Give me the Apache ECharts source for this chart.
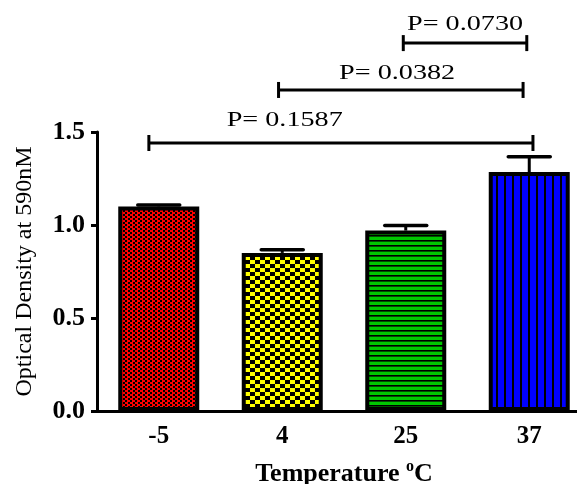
<!DOCTYPE html>
<html>
<head>
<meta charset="utf-8">
<script src="https://cdn.jsdelivr.net/npm/echarts@6/dist/echarts.min.js"></script>
<style>
  html, body { margin: 0; padding: 0; background: #fff; }
  #bar-chart { width: 577px; height: 484px; }
</style>
</head>
<body>
<div id="bar-chart"></div>
<script>
// data
const categories = ['-5', '4', '25', '37']
const odValues = [1.10, 0.85, 0.97, 1.285]
const odErrors = [0.008, 0.017, 0.027, 0.082]
const yTicks = [0, 0.5, 1.0, 1.5]

// significance brackets: from / to category (with small offsets), level, p-value text
const bracketFrom = [-0.08, 0.97, 1.98]
const bracketTo = [3.03, 2.95, 2.98]
const bracketLevel = [1.441, 1.726, 1.978]
const bracketLabelX = [1.02, 1.93, 2.48]
const bracketLabelY = [1.565, 1.815, 2.078]
const bracketText = ['P= 0.1587', 'P= 0.0382', 'P= 0.0730']

const FONT = 'Liberation Serif'

// fill patterns for the bars
function makePattern(w, h, bg, draw) {
  const c = document.createElement('canvas')
  c.width = w
  c.height = h
  const ctx = c.getContext('2d')
  ctx.fillStyle = bg
  ctx.fillRect(0, 0, w, h)
  ctx.fillStyle = '#000'
  draw(ctx)
  return {image: c, repeat: 'repeat'}
}

const patterns = [
  makePattern(10, 4, '#ff0000', ctx => {
    ctx.fillRect(0, 0, 2, 2); ctx.fillRect(5, 0, 2, 2)
    ctx.fillRect(3, 2, 2, 2); ctx.fillRect(8, 2, 2, 2)
  }),
  makePattern(10, 8, '#ffff00', ctx => { ctx.fillRect(0, 0, 5, 4); ctx.fillRect(5, 4, 5, 4) }),
  makePattern(4, 5, '#00c800', ctx => { ctx.fillRect(0, 0, 4, 1.6) }),
  makePattern(8, 4, '#0000ff', ctx => { ctx.fillRect(0, 0, 2, 4) })
]

let chart = echarts.init(document.getElementById('bar-chart'))

const option = {
  animation: false,
  grid: {left: 97, right: -14, top: 132, bottom: 73, outerBoundsMode: 'none', containLabel: false},
  xAxis: {
    type: 'category',
    data: categories,
    name: 'Temperature {sup|o}C',
    nameLocation: 'middle',
    nameGap: 48,
    nameTextStyle: {
      fontFamily: FONT, fontSize: 26, fontWeight: 'bold', color: '#000',
      rich: {
        sup: {fontFamily: FONT, fontSize: 16, fontWeight: 'bold', color: '#000', verticalAlign: 'top', lineHeight: 30}
      }
    },
    axisLine: {lineStyle: {color: '#000', width: 3}},
    axisTick: {alignWithLabel: true, length: 6, lineStyle: {color: '#000', width: 3}},
    axisLabel: {fontFamily: FONT, fontSize: 25, fontWeight: 'bold', color: '#000', margin: 13}
  },
  yAxis: {
    type: 'value',
    min: yTicks[0],
    max: yTicks[yTicks.length - 1],
    interval: 0.5,
    name: 'Optical Density at 590nM',
    nameLocation: 'middle',
    nameGap: 60,
    nameTextStyle: {fontFamily: FONT, fontSize: 24, color: '#000'},
    splitLine: {show: false},
    axisLine: {show: true, lineStyle: {color: '#000', width: 3}},
    axisTick: {show: true, length: 6, lineStyle: {color: '#000', width: 3}},
    axisLabel: {
      fontFamily: FONT, fontSize: 26, fontWeight: 'bold', color: '#000', margin: 12,
      formatter: v => v.toFixed(1)
    }
  },
  series: [
    {
      type: 'bar',
      barWidth: 81,
      data: odValues.map((v, i) => ({value: v, itemStyle: {color: patterns[i]}})),
      itemStyle: {borderColor: '#000', borderWidth: 4},
      z: 2
    },
    {
      // error bars (upper only)
      type: 'custom',
      z: 3,
      data: odValues.map((v, i) => [i, v, v + odErrors[i]]),
      renderItem: (params, api) => {
        const base = api.coord([api.value(0), api.value(1)])
        const top = api.coord([api.value(0), api.value(2)])
        return {
          type: 'group',
          children: [
            {type: 'line', shape: {x1: base[0], y1: base[1], x2: top[0], y2: top[1]},
              style: {stroke: '#000', lineWidth: 3}},
            {type: 'line', shape: {x1: top[0] - 21, y1: top[1], x2: top[0] + 21, y2: top[1]},
              style: {stroke: '#000', lineWidth: 3.5, lineCap: 'round'}}
          ]
        }
      }
    },
    {
      // significance brackets
      type: 'custom',
      clip: false,
      z: 4,
      data: bracketText.map((t, i) => [bracketFrom[i], bracketTo[i], bracketLevel[i], bracketLabelX[i], bracketLabelY[i]]),
      renderItem: (params, api) => {
        const band = api.size([1, 0])[0]
        const c0 = api.coord([0, 0])
        const xOf = u => c0[0] + u * band
        const y = api.coord([0, api.value(2)])[1]
        const x1 = xOf(api.value(0))
        const x2 = xOf(api.value(1))
        const ty = api.coord([0, api.value(4)])[1]
        return {
          type: 'group',
          children: [
            {type: 'line', shape: {x1: x1, y1: y, x2: x2, y2: y}, style: {stroke: '#000', lineWidth: 3}},
            {type: 'line', shape: {x1: x1, y1: y - 8, x2: x1, y2: y + 8}, style: {stroke: '#000', lineWidth: 3}},
            {type: 'line', shape: {x1: x2, y1: y - 8, x2: x2, y2: y + 8}, style: {stroke: '#000', lineWidth: 3}},
            {
              type: 'text', x: xOf(api.value(3)), y: ty, scaleX: 1.28,
              style: {
                text: bracketText[params.dataIndex], fontFamily: FONT, fontSize: 22,
                fill: '#000', align: 'center', verticalAlign: 'middle'
              }
            }
          ]
        }
      }
    }
  ]
}

chart.setOption(option)
</script>
</body>
</html>
